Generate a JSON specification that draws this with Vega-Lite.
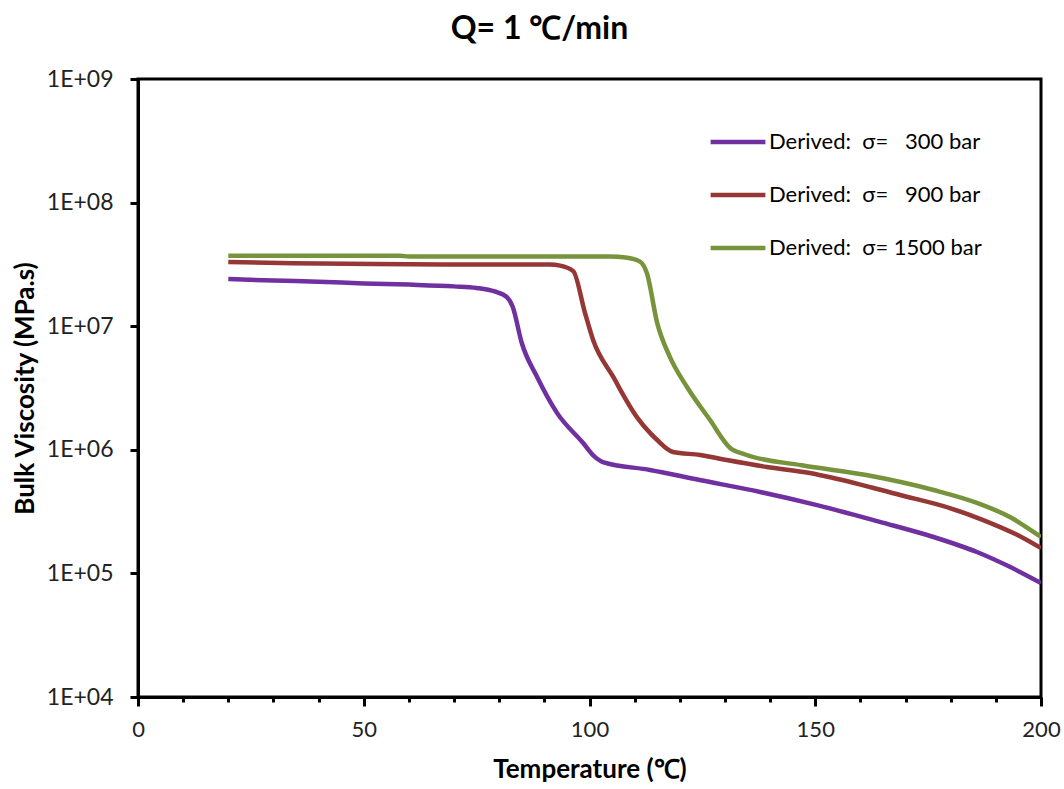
{
  "$schema": "https://vega.github.io/schema/vega-lite/v6.json",
  "autosize": {"type": "none"},
  "width": 903,
  "height": 618,
  "padding": {"left": 138, "top": 79, "right": 23, "bottom": 92},
  "background": "white",
  "title": {
    "text": "Q= 1 ℃/min",
    "font": "Lato",
    "fontSize": 32,
    "fontWeight": "bold",
    "color": "black",
    "anchor": "middle",
    "dx": -50,
    "offset": 22
  },
  "config": {
    "view": {"stroke": "black", "strokeWidth": 3},
    "axis": {
      "domainColor": "black",
      "domainWidth": 3,
      "tickColor": "black",
      "tickWidth": 3,
      "grid": false,
      "labelFont": "Lato",
      "labelFontSize": 22,
      "labelColor": "#222",
      "titleFont": "Lato",
      "titleFontSize": 26,
      "titleFontWeight": "bold",
      "titleColor": "black"
    }
  },
  "data": {
    "values": [
      {"S": "p300", "T": 20, "V": 2.41e7},
      {"S": "p300", "T": 30, "V": 2.34e7},
      {"S": "p300", "T": 40, "V": 2.29e7},
      {"S": "p300", "T": 50, "V": 2.22e7},
      {"S": "p300", "T": 60, "V": 2.17e7},
      {"S": "p300", "T": 70, "V": 2.10e7},
      {"S": "p300", "T": 75, "V": 2.04e7},
      {"S": "p300", "T": 79, "V": 1.91e7},
      {"S": "p300", "T": 81.7, "V": 1.72e7},
      {"S": "p300", "T": 83, "V": 1.43e7},
      {"S": "p300", "T": 85, "V": 7.31e6},
      {"S": "p300", "T": 88.4, "V": 3.88e6},
      {"S": "p300", "T": 92.8, "V": 1.99e6},
      {"S": "p300", "T": 98.6, "V": 1.135e6},
      {"S": "p300", "T": 101, "V": 8.9e5},
      {"S": "p300", "T": 103, "V": 7.96e5},
      {"S": "p300", "T": 113.4, "V": 6.87e5},
      {"S": "p300", "T": 124.4, "V": 5.70e5},
      {"S": "p300", "T": 137.8, "V": 4.56e5},
      {"S": "p300", "T": 150.4, "V": 3.57e5},
      {"S": "p300", "T": 164.3, "V": 2.61e5},
      {"S": "p300", "T": 176.2, "V": 1.97e5},
      {"S": "p300", "T": 185.8, "V": 1.49e5},
      {"S": "p300", "T": 193.1, "V": 1.13e5},
      {"S": "p300", "T": 200, "V": 8.36e4},
      {"S": "p900", "T": 20, "V": 3.30e7},
      {"S": "p900", "T": 34.4, "V": 3.23e7},
      {"S": "p900", "T": 52, "V": 3.18e7},
      {"S": "p900", "T": 71.3, "V": 3.15e7},
      {"S": "p900", "T": 91.2, "V": 3.15e7},
      {"S": "p900", "T": 93.5, "V": 3.09e7},
      {"S": "p900", "T": 96.4, "V": 2.79e7},
      {"S": "p900", "T": 99, "V": 1.28e7},
      {"S": "p900", "T": 100.8, "V": 7.73e6},
      {"S": "p900", "T": 105.2, "V": 3.92e6},
      {"S": "p900", "T": 110.5, "V": 1.84e6},
      {"S": "p900", "T": 113.4, "V": 1.37e6},
      {"S": "p900", "T": 115, "V": 1.20e6},
      {"S": "p900", "T": 118.5, "V": 9.59e5},
      {"S": "p900", "T": 124.5, "V": 9.08e5},
      {"S": "p900", "T": 130.4, "V": 8.26e5},
      {"S": "p900", "T": 139.3, "V": 7.26e5},
      {"S": "p900", "T": 148.8, "V": 6.49e5},
      {"S": "p900", "T": 154, "V": 5.92e5},
      {"S": "p900", "T": 168.8, "V": 4.31e5},
      {"S": "p900", "T": 179.8, "V": 3.38e5},
      {"S": "p900", "T": 187.2, "V": 2.70e5},
      {"S": "p900", "T": 194.7, "V": 2.05e5},
      {"S": "p900", "T": 200, "V": 1.60e5},
      {"S": "p1500", "T": 20, "V": 3.72e7},
      {"S": "p1500", "T": 58, "V": 3.72e7},
      {"S": "p1500", "T": 60, "V": 3.66e7},
      {"S": "p1500", "T": 104.5, "V": 3.66e7},
      {"S": "p1500", "T": 108, "V": 3.59e7},
      {"S": "p1500", "T": 111.2, "V": 3.33e7},
      {"S": "p1500", "T": 112.7, "V": 2.69e7},
      {"S": "p1500", "T": 115, "V": 1.06e7},
      {"S": "p1500", "T": 117.8, "V": 5.64e6},
      {"S": "p1500", "T": 121.6, "V": 3.22e6},
      {"S": "p1500", "T": 126.7, "V": 1.74e6},
      {"S": "p1500", "T": 131.1, "V": 1.04e6},
      {"S": "p1500", "T": 134.5, "V": 9.16e5},
      {"S": "p1500", "T": 147, "V": 7.5e5},
      {"S": "p1500", "T": 161.3, "V": 6.25e5},
      {"S": "p1500", "T": 176.2, "V": 4.73e5},
      {"S": "p1500", "T": 185.8, "V": 3.72e5},
      {"S": "p1500", "T": 193.1, "V": 2.86e5},
      {"S": "p1500", "T": 200, "V": 1.97e5}
    ]
  },
  "mark": {"type": "line", "strokeWidth": 4.5, "clip": true, "interpolate": "monotone"},
  "encoding": {
    "x": {
      "field": "T",
      "type": "quantitative",
      "scale": {"domain": [0, 200], "nice": false, "zero": false},
      "axis": {
        "title": "Temperature (℃)",
        "values": [0, 10, 20, 30, 40, 50, 60, 70, 80, 90, 100, 110, 120, 130, 140, 150, 160, 170, 180, 190, 200],
        "labelExpr": "datum.value % 50 === 0 ? datum.label : ''",
        "tickSize": {"expr": "datum.value % 50 === 0 ? 9 : 5"},
        "labelPadding": 13,
        "titlePadding": 16,
        "labelFlush": false,
        "labelOverlap": false
      }
    },
    "y": {
      "field": "V",
      "type": "quantitative",
      "scale": {"type": "log", "domain": [1e4, 1e9], "nice": false},
      "axis": {
        "title": "Bulk Viscosity (MPa.s)",
        "values": [1e4, 1e5, 1e6, 1e7, 1e8, 1e9],
        "labelExpr": "'1E+0' + round(log(datum.value) / LN10)",
        "labelFontSize": 23,
        "tickSize": 8,
        "labelPadding": 17,
        "titlePadding": 8,
        "labelFlush": false,
        "labelOverlap": false
      }
    },
    "color": {
      "field": "S",
      "type": "nominal",
      "scale": {
        "domain": ["p300", "p900", "p1500"],
        "range": ["#7030A0", "#953735", "#77933C"]
      },
      "legend": {
        "title": null,
        "orient": "none",
        "legendX": 570,
        "legendY": 33,
        "symbolType": "stroke",
        "symbolSize": 3000,
        "symbolStrokeWidth": 4.5,
        "labelFont": "Lato",
        "labelFontSize": 22,
        "labelColor": "black",
        "labelLimit": 400,
        "rowPadding": 12,
        "labelOffset": 1,
        "labelExpr": "datum.value === 'p300' ? 'Derived:\u00a0 σ=\u00a0\u00a0 300 bar' : datum.value === 'p900' ? 'Derived:\u00a0 σ=\u00a0\u00a0 900 bar' : 'Derived:\u00a0 σ= 1500 bar'"
      }
    }
  }
}
